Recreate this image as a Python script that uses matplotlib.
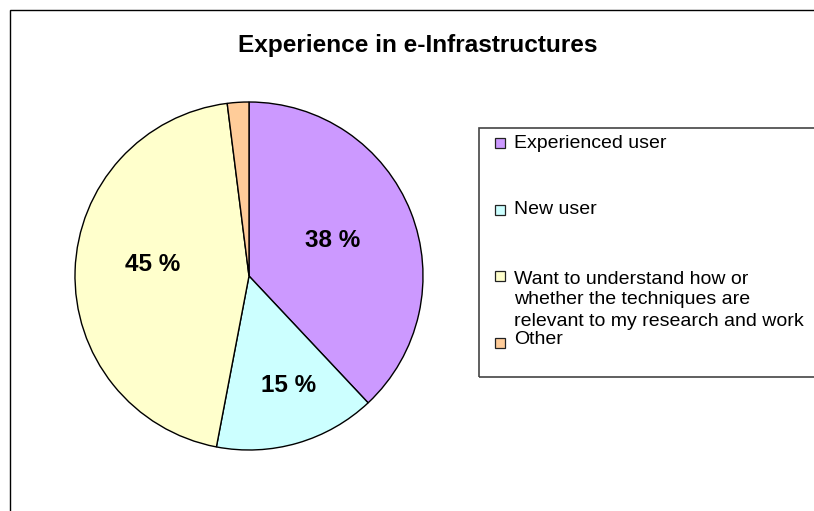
import matplotlib
matplotlib.use("Agg")
import matplotlib.pyplot as plt
from matplotlib.patches import Rectangle
import numpy as np

plt.rcParams['font.family'] = ['Liberation Sans', 'DejaVu Sans']

title = "Experience in e-Infrastructures"
categories = ["Experienced user", "New user",
              "Want to understand how or\nwhether the techniques are\nrelevant to my research and work",
              "Other"]
shares = [38, 15, 45, 2]
colors = ["#CC99FF", "#CCFFFF", "#FFFFCC", "#FFCC99"]

W, H = 814, 511
fig = plt.figure(figsize=(W / 100, H / 100), dpi=100)

def fx(px):
    return px / W

def fy(py):
    return 1 - py / H

# outer chart frame (runs off the right and bottom of the image)
fig.patches.append(Rectangle((fx(10), -0.1), 1.2, fy(10) + 0.1, transform=fig.transFigure,
                             fill=False, edgecolor="black", linewidth=1.0))

fig.text(fx(418), fy(52), title, ha="center", va="baseline",
         fontsize=17.6, fontweight="bold")

# pie: centre (249, 276) px, radius 174 px
cx, cy, r = 249, 276, 174
lim = 1.05
side = 2 * r * lim
ax = fig.add_axes([fx(cx - side / 2), fy(cy + side / 2), side / W, side / H])
wedges, _ = ax.pie(shares, colors=colors, startangle=90, counterclock=False,
                   wedgeprops=dict(edgecolor="black", linewidth=1.0))
ax.set_xlim(-lim, lim)
ax.set_ylim(-lim, lim)
ax.set_aspect("equal")
ax.axis("off")

# value labels (Other has none)
label_dist = [0.52, 0.67, 0.56, None]
label_turn = [1.5, 3.8, -5.2, 0]
for w, v, d, t in zip(wedges, shares, label_dist, label_turn):
    if d is None:
        continue
    ang = np.deg2rad((w.theta1 + w.theta2) / 2 + t)
    ax.text(d * np.cos(ang), d * np.sin(ang), f"{v} %", ha="center", va="center",
            fontsize=17.5, fontweight="bold")

# legend box
fig.patches.append(Rectangle((fx(479), fy(377)), 1.0, (377 - 128) / H, transform=fig.transFigure,
                             fill=False, edgecolor="#444444", linewidth=1.2))

marker_y = [143, 210, 276, 343]
text_y = [143, 210, 279, 339]
pitch = 21
for cat, col, my, ty in zip(categories, colors, marker_y, text_y):
    fig.patches.append(Rectangle((fx(495), fy(my + 5)), 10 / W, 10 / H, transform=fig.transFigure,
                                 facecolor=col, edgecolor="#222222", linewidth=0.9))
    for i, line in enumerate(cat.split("\n")):
        fig.text(fx(514), fy(ty + i * pitch), line, ha="left", va="center", fontsize=14)

fig.savefig("out.png", dpi=100, facecolor="white")
